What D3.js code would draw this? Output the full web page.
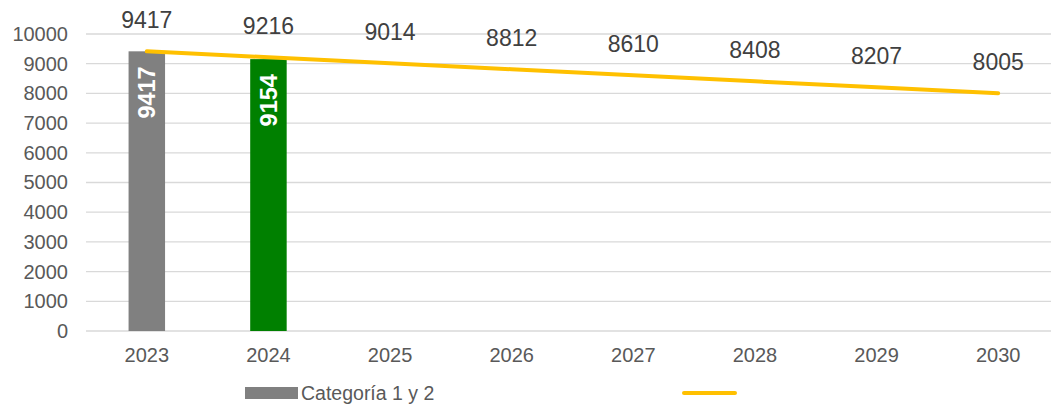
<!DOCTYPE html>
<html>
<head>
<meta charset="utf-8">
<script src="https://cdn.jsdelivr.net/npm/d3@7"></script>
<style>
  body { margin: 0; background: #fff; }
  svg { font-family: Arial, "Liberation Sans", sans-serif; }
</style>
</head>
<body>
<div id="chart"></div>
<script>
var years = ["2023", "2024", "2025", "2026", "2027", "2028", "2029", "2030"];
var barValues = [9417, 9154, null, null, null, null, null, null];
var barColors = ["#808080", "#008000"];
var lineValues = [9417, 9216, 9014, 8812, 8610, 8408, 8207, 8005];
var yTicks = [0, 1000, 2000, 3000, 4000, 5000, 6000, 7000, 8000, 9000, 10000];

var width = 1051, height = 405;
var fontFam = "Arial, 'Liberation Sans', sans-serif";

var svg = d3.select("#chart").append("svg")
    .attr("width", width)
    .attr("height", height);

var x = d3.scaleBand()
    .domain(years)
    .range([86, 1059])
    .paddingInner(0.7)
    .paddingOuter(0.35);

var y = d3.scaleLinear()
    .domain([0, 10000])
    .range([331, 34]);

// gridlines
svg.append("g")
    .selectAll("line")
    .data(yTicks)
  .enter().append("line")
    .attr("x1", 86).attr("x2", width)
    .attr("y1", function (d) { return y(d); })
    .attr("y2", function (d) { return y(d); })
    .attr("stroke", "#d9d9d9")
    .attr("stroke-width", 1.3);

// y axis labels
var yAxis = svg.append("g")
    .attr("transform", "translate(68,0)")
    .call(d3.axisLeft(y).tickValues(yTicks).tickSize(0).tickPadding(0).tickFormat(d3.format("d")));
yAxis.select(".domain").remove();
yAxis.selectAll("text")
    .attr("fill", "#595959")
    .style("font-size", "20px")
    .style("font-family", fontFam);

// x axis labels
var xAxis = svg.append("g")
    .attr("transform", "translate(0,342)")
    .call(d3.axisBottom(x).tickSize(0).tickPadding(6));
xAxis.select(".domain").remove();
xAxis.selectAll("text")
    .attr("fill", "#595959")
    .style("font-size", "20px")
    .style("font-family", fontFam);

// bars
var barData = years.map(function (d, i) { return { year: d, value: barValues[i], i: i }; })
    .filter(function (d) { return d.value != null; });

svg.selectAll(".bar")
    .data(barData)
  .enter().append("rect")
    .attr("class", "bar")
    .attr("x", function (d) { return x(d.year); })
    .attr("width", x.bandwidth())
    .attr("y", function (d) { return y(d.value); })
    .attr("height", function (d) { return y(0) - y(d.value); })
    .attr("fill", function (d) { return barColors[d.i]; });

svg.selectAll(".bar-label")
    .data(barData)
  .enter().append("text")
    .attr("class", "bar-label")
    .attr("transform", function (d) {
        var cx = x(d.year) + x.bandwidth() / 2 + 8.5;
        var cy = y(d.value) + 15;
        return "translate(" + cx + "," + cy + ") rotate(-90)";
    })
    .attr("text-anchor", "end")
    .attr("fill", "#fff")
    .style("font-size", "23.5px")
    .style("font-weight", "bold")
    .text(function (d) { return d.value; });

// line
var line = d3.line()
    .x(function (d, i) { return x(years[i]) + x.bandwidth() / 2; })
    .y(function (d) { return y(d); });

svg.append("path")
    .datum(lineValues)
    .attr("d", line)
    .attr("fill", "none")
    .attr("stroke", "#FFC000")
    .attr("stroke-width", 4)
    .attr("stroke-linecap", "round");

svg.selectAll(".line-label")
    .data(lineValues)
  .enter().append("text")
    .attr("class", "line-label")
    .attr("x", function (d, i) { return x(years[i]) + x.bandwidth() / 2; })
    .attr("y", function (d) { return y(d) - 23; })
    .attr("text-anchor", "middle")
    .attr("fill", "#404040")
    .style("font-size", "23px")
    .text(function (d) { return d; });

// legend
var legend = svg.append("g");
legend.append("rect")
    .attr("x", 245).attr("y", 387)
    .attr("width", 53).attr("height", 12)
    .attr("fill", "#808080");
legend.append("text")
    .attr("x", 301).attr("y", 400)
    .attr("fill", "#595959")
    .style("font-size", "19.5px")
    .text("Categoría 1 y 2");
legend.append("line")
    .attr("x1", 684).attr("x2", 735)
    .attr("y1", 393).attr("y2", 393)
    .attr("stroke", "#FFC000")
    .attr("stroke-width", 4)
    .attr("stroke-linecap", "round");
</script>
</body>
</html>
